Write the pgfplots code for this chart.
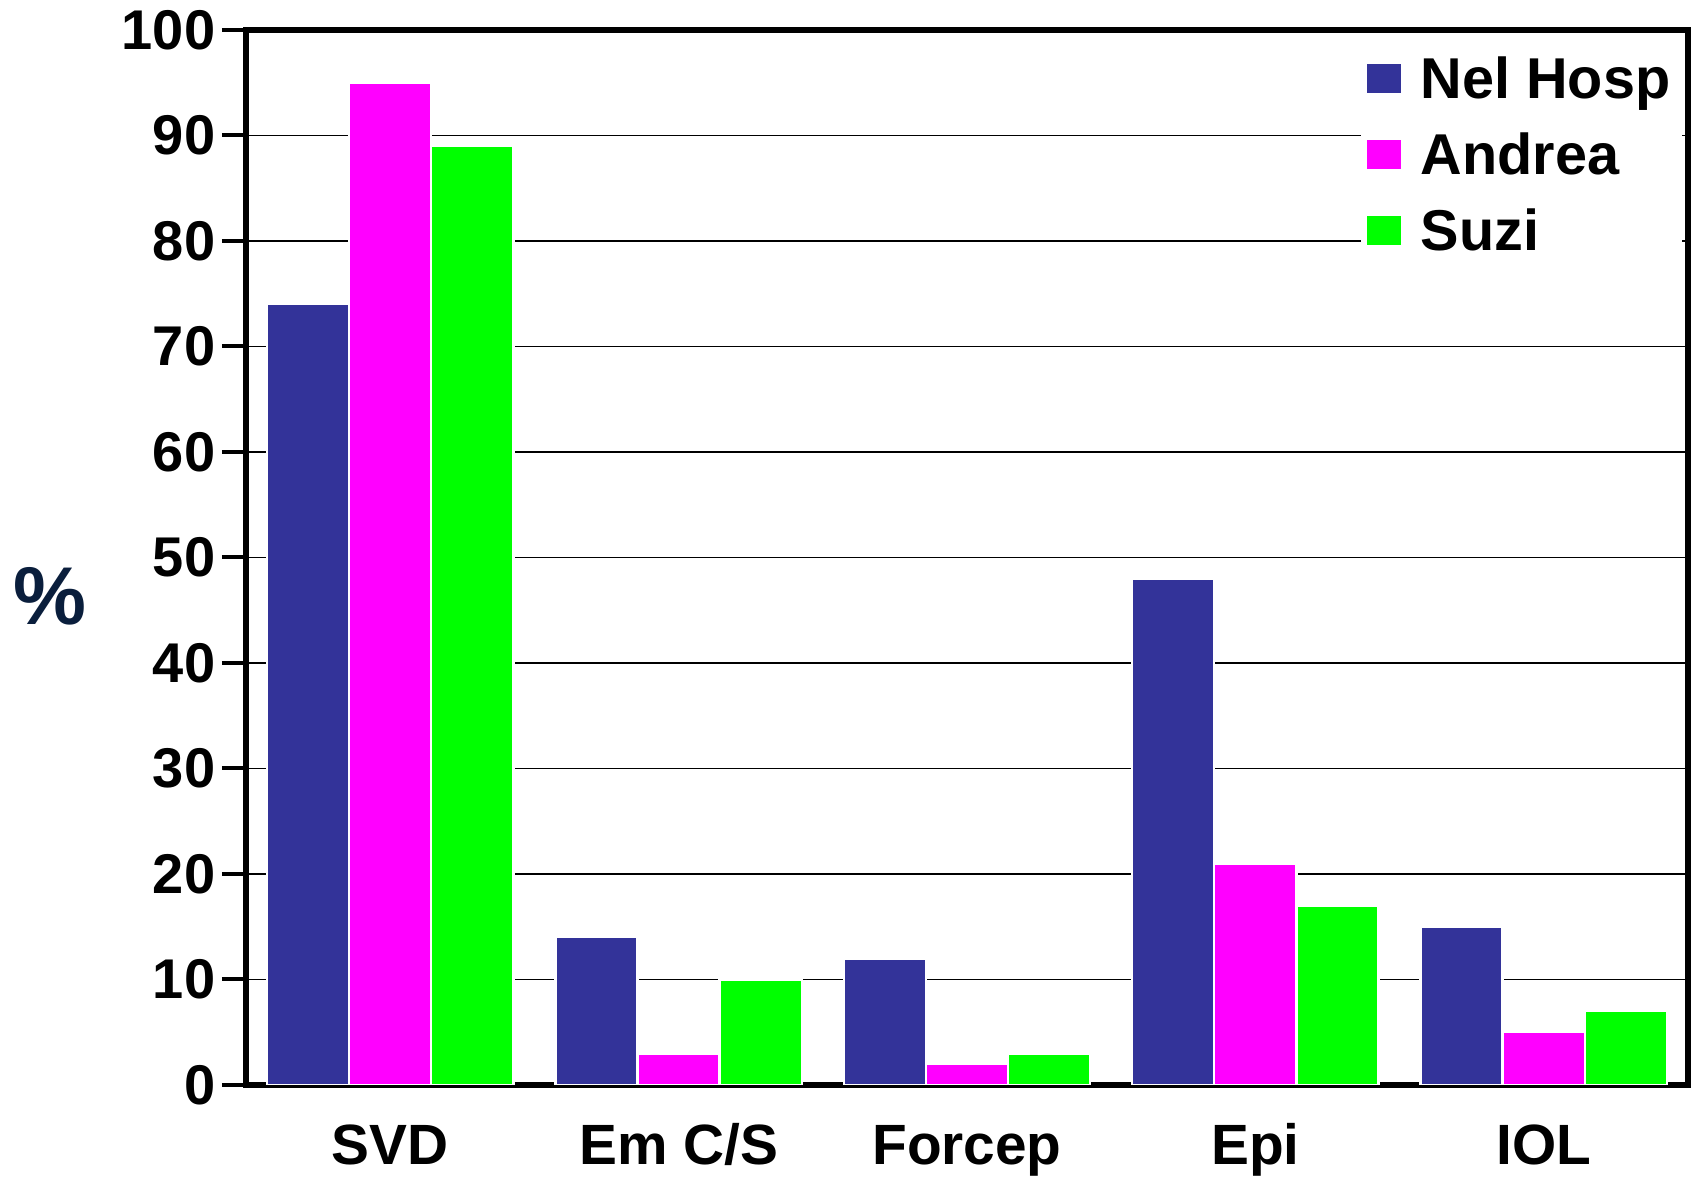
\documentclass[border=0pt]{standalone}
\usepackage{pgfplots}
\pgfplotsset{compat=1.18}
\usepackage{fontspec}
\setmainfont{Liberation Sans}
\definecolor{nel}{RGB}{51,51,153}
\definecolor{andrea}{RGB}{255,0,255}
\definecolor{suzi}{RGB}{0,255,0}
\definecolor{pct}{RGB}{10,30,60}
\begin{document}
\begin{tikzpicture}
\begin{axis}[
 scale only axis, width=360.5pt, height=263.75pt,
 xmin=-0.5, xmax=4.5, ymin=0, ymax=100,
 xtick={0,1,2,3,4}, xticklabels={SVD, Em C/S, Forcep, Epi, IOL},
 ytick={0,10,...,100},
 ytick pos=left,
 ymajorgrids, major grid style={black, line width=0.4pt},
 axis line style={line width=1.3pt},
 tick align=outside, major tick length=6pt,
 ytick style={line width=1pt, black},
 xtick style={draw=none},
 /pgf/number format/assume math mode=true,
 yticklabel style={font=\bfseries\fontsize{14}{14}\selectfont, anchor=east, inner xsep=0pt, inner ysep=0pt, xshift=-1.5pt},
 xticklabel style={font=\bfseries\fontsize{14.2}{14.2}\selectfont, anchor=base, inner ysep=0pt, yshift=-13.9pt},
 ylabel={\%},
 ylabel style={rotate=-90, at={(rel axis cs:0,0.463)}, anchor=center, xshift=-49pt, inner sep=0pt, font=\bfseries\fontsize{20.5}{20.5}\selectfont, text=pct},
 ybar, bar width=0.285,
 legend image code/.code={\fill[#1,draw=none] (0pt,-2.2pt) rectangle (8.5pt,5.05pt);},
 legend style={at={(rel axis cs:0.7725,0.986)}, anchor=north west, draw=none, fill=white, inner xsep=1.5pt, inner ysep=3pt, row sep=5.8pt, font=\bfseries\fontsize{14.4}{14.4}\selectfont, nodes={text height=10.3pt, text depth=2.9pt, inner ysep=0pt, inner xsep=1.5pt}, /tikz/every odd column/.style={column sep=3.5pt}},
 legend cell align=left,
]
\addplot[fill=nel, draw=white, line width=0.6pt, bar shift=-0.285] coordinates {(0,74) (1,14) (2,12) (3,48) (4,15)};
\addplot[fill=andrea, draw=white, line width=0.6pt, bar shift=0] coordinates {(0,95) (1,3) (2,2) (3,21) (4,5)};
\addplot[fill=suzi, draw=white, line width=0.6pt, bar shift=0.285] coordinates {(0,89) (1,10) (2,3) (3,17) (4,7)};
\legend{Nel Hosp, Andrea, Suzi}
\end{axis}
\path ([xshift=-61.5pt,yshift=-23.3pt]current axis.south west) rectangle ([xshift=1.25pt,yshift=7.5pt]current axis.north east);
\end{tikzpicture}
\end{document}
